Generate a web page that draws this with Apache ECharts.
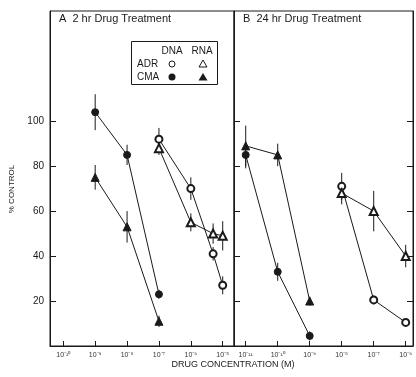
<!DOCTYPE html>
<html>
<head>
<meta charset="utf-8">
<script src="https://cdn.jsdelivr.net/npm/echarts@6/dist/echarts.min.js"></script>
<style>
	html, body { margin: 0; padding: 0; background: #fff; }
	#chart { width: 416px; height: 377px; }
</style>
</head>
<body>
<div id="chart"></div>
<script>
// tick positions (log10 of molar conc.) and % control ticks
var ticksA = [-10, -9, -8, -7, -6, -5];
var ticksB = [-11, -10, -9, -8, -7, -6];
var yTicks = [20, 40, 60, 80, 100];

// A: 2 hr treatment
var cmaDoseA = [1e-9, 1e-8, 1e-7];
var cmaDnaA = [104, 85, 23];
var cmaDnaErrA = [8, 4.5, 2];
var cmaRnaA = [75, 53, 11];
var cmaRnaErrA = [5.5, 7, 2.5];
var adrDoseA = [1e-7, 1e-6, 5e-6, 1e-5];
var adrDnaA = [92, 70, 41, 27];
var adrDnaErrA = [5, 5, 3, 4];
var adrRnaA = [88, 55, 50, 49];
var adrRnaErrA = [3, 4, 4.5, 6.5];

// B: 24 hr treatment
var cmaDoseB = [1e-11, 1e-10, 1e-9];
var cmaDnaB = [85, 33, 4.5];
var cmaDnaErrB = [6, 4, 2];
var cmaRnaB = [89, 85, 20];
var cmaRnaErrB = [9, 5, 2];
var adrDoseB = [1e-8, 1e-7, 1e-6];
var adrDnaB = [71, 20.5, 10.5];
var adrDnaErrB = [6, 2, 1.5];
var adrRnaB = [68, 60, 40];
var adrRnaErrB = [5, 9, 5];

var ink = '#1a1a1a';
var font = '"Liberation Sans", Arial, sans-serif';

var supMap = { '-': '⁻', '0': '⁰', '1': '¹', '2': '²', '3': '³', '4': '⁴', '5': '⁵', '6': '⁶', '7': '⁷', '8': '⁸', '9': '⁹' };
function pow10Label(v) {
	var s = String(Math.round(v)), out = '';
	for (var i = 0; i < s.length; i++) out += supMap[s[i]] || s[i];
	return '10' + out;
}

function pts(dose, vals, err) {
	return dose.map(function(d, i) {
		return err ? [Math.log10(d), vals[i], err[i]] : [Math.log10(d), vals[i]];
	});
}

function curve(grid, dose, vals, symbol) {
	return {
		type: 'line',
		xAxisIndex: grid,
		yAxisIndex: grid === 0 ? 0 : 1,
		data: pts(dose, vals),
		symbol: symbol,
		symbolSize: symbol.indexOf('riangle') > -1 ? 8 : 7,
		lineStyle: { color: ink, width: 1 },
		itemStyle: { color: ink, borderColor: ink, borderWidth: 1 },
		z: 3
	};
}

function bars(grid, dose, vals, err) {
	return {
		type: 'custom',
		xAxisIndex: grid,
		yAxisIndex: grid === 0 ? 0 : 1,
		data: pts(dose, vals, err),
		encode: { x: 0, y: 1 },
		z: 2,
		renderItem: function(params, api) {
			var x = api.value(0), y = api.value(1), e = api.value(2);
			var p1 = api.coord([x, y + e]);
			var p2 = api.coord([x, y - e]);
			return {
				type: 'line',
				shape: { x1: p1[0], y1: p1[1], x2: p2[0], y2: p2[1] },
				style: { stroke: ink, lineWidth: 1 }
			};
		}
	};
}

function xAxis(grid, min, max, ticks) {
	return {
		gridIndex: grid,
		type: 'value',
		min: min,
		max: max,
		axisLine: { lineStyle: { color: ink, width: 1 } },
		axisTick: { inside: true, length: 5, customValues: ticks, lineStyle: { color: ink } },
		axisLabel: { customValues: ticks, formatter: pow10Label, fontSize: 7, margin: 6, color: '#333', fontFamily: font },
		splitLine: { show: false }
	};
}

function yAxis(grid, showLabel, position) {
	return {
		gridIndex: grid,
		type: 'value',
		position: position,
		min: 0,
		max: 149,
		axisLine: { show: true, lineStyle: { color: ink, width: 1 } },
		axisTick: { inside: true, length: 6, customValues: yTicks, lineStyle: { color: ink } },
		axisLabel: { show: showLabel, customValues: yTicks, fontSize: 10, margin: 6, color: ink, fontFamily: font },
		splitLine: { show: false }
	};
}

var myChart = echarts.init(document.getElementById('chart'));
var option = {
	animation: false,
	backgroundColor: '#fff',
	textStyle: { fontFamily: font },
	grid: [
		{ left: 50, top: 11, width: 184, height: 335, show: true, borderColor: ink, borderWidth: 1 },
		{ left: 234, top: 11, width: 179, height: 335, show: true, borderColor: ink, borderWidth: 1 }
	],
	title: [
		{ text: 'A  2 hr Drug Treatment', left: 59, top: 13, padding: 0, textStyle: { fontSize: 11, fontWeight: 'normal', color: ink, fontFamily: font } },
		{ text: 'B  24 hr Drug Treatment', left: 243, top: 13, padding: 0, textStyle: { fontSize: 11, fontWeight: 'normal', color: ink, fontFamily: font } }
	],
	xAxis: [
		xAxis(0, -10.417, -4.646, ticksA),
		xAxis(1, -11.366, -5.772, ticksB)
	],
	yAxis: [
		yAxis(0, true, 'left'),
		yAxis(1, false, 'left'),
		yAxis(1, false, 'right')
	],
	graphic: [
		{ type: 'text', x: 12, y: 189, rotation: Math.PI / 2, style: { text: '% CONTROL', fontSize: 8, fontFamily: font, fill: ink, align: 'center', verticalAlign: 'middle' } },
		{ type: 'text', x: 233, y: 365, style: { text: 'DRUG CONCENTRATION (M)', fontSize: 9, fontFamily: font, fill: ink, align: 'center', verticalAlign: 'middle' } },
		// legend box
		{ type: 'rect', shape: { x: 131.5, y: 41.5, width: 86, height: 43 }, style: { fill: '#fff', stroke: ink, lineWidth: 1 }, z: 10 },
		{ type: 'text', x: 172, y: 51, z: 11, style: { text: 'DNA', fontSize: 10, fontFamily: font, fill: ink, align: 'center', verticalAlign: 'middle' } },
		{ type: 'text', x: 202, y: 51, z: 11, style: { text: 'RNA', fontSize: 10, fontFamily: font, fill: ink, align: 'center', verticalAlign: 'middle' } },
		{ type: 'text', x: 137, y: 64, z: 11, style: { text: 'ADR', fontSize: 10, fontFamily: font, fill: ink, align: 'left', verticalAlign: 'middle' } },
		{ type: 'text', x: 137, y: 77, z: 11, style: { text: 'CMA', fontSize: 10, fontFamily: font, fill: ink, align: 'left', verticalAlign: 'middle' } },
		{ type: 'circle', shape: { cx: 172, cy: 64, r: 3 }, style: { fill: '#fff', stroke: ink, lineWidth: 1 }, z: 11 },
		{ type: 'polygon', shape: { points: [[203, 60], [207, 67], [199, 67]] }, style: { fill: '#fff', stroke: ink, lineWidth: 1 }, z: 11 },
		{ type: 'circle', shape: { cx: 172, cy: 77, r: 3.5 }, style: { fill: ink }, z: 11 },
		{ type: 'polygon', shape: { points: [[203, 73], [207.5, 80.5], [198.5, 80.5]] }, style: { fill: ink }, z: 11 }
	],
	series: [
		bars(0, cmaDoseA, cmaDnaA, cmaDnaErrA),
		bars(0, cmaDoseA, cmaRnaA, cmaRnaErrA),
		bars(0, adrDoseA, adrDnaA, adrDnaErrA),
		bars(0, adrDoseA, adrRnaA, adrRnaErrA),
		curve(0, cmaDoseA, cmaDnaA, 'circle'),
		curve(0, cmaDoseA, cmaRnaA, 'triangle'),
		curve(0, adrDoseA, adrDnaA, 'emptyCircle'),
		curve(0, adrDoseA, adrRnaA, 'emptyTriangle'),
		bars(1, cmaDoseB, cmaDnaB, cmaDnaErrB),
		bars(1, cmaDoseB, cmaRnaB, cmaRnaErrB),
		bars(1, adrDoseB, adrDnaB, adrDnaErrB),
		bars(1, adrDoseB, adrRnaB, adrRnaErrB),
		curve(1, cmaDoseB, cmaDnaB, 'circle'),
		curve(1, cmaDoseB, cmaRnaB, 'triangle'),
		curve(1, adrDoseB, adrDnaB, 'emptyCircle'),
		curve(1, adrDoseB, adrRnaB, 'emptyTriangle')
	]
};
myChart.setOption(option);
</script>
</body>
</html>
